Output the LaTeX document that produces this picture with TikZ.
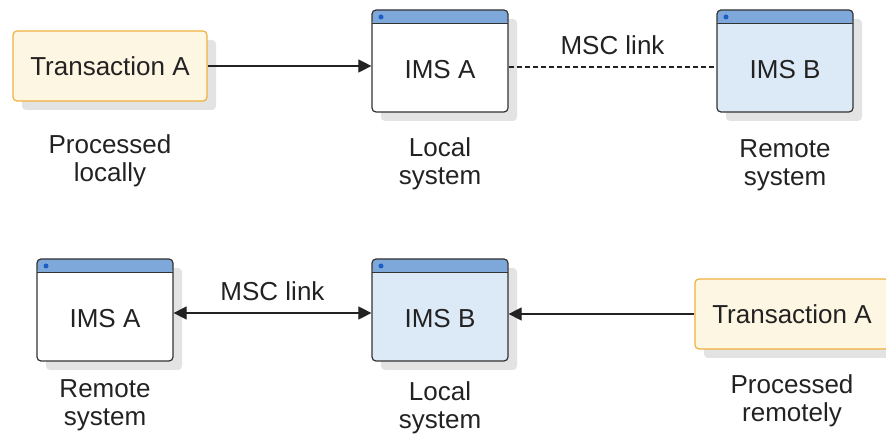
\documentclass[tikz,border=0pt]{standalone}
\usepackage{fontspec}
\setmainfont{Liberation Sans}
\usetikzlibrary{arrows.meta,positioning,shadows}
\definecolor{MscInk}{HTML}{222222}
\definecolor{MscEdge}{HTML}{333333}
\definecolor{MscShadow}{HTML}{E3E3E3}
\definecolor{TxnFill}{HTML}{FDF6E2}
\definecolor{TxnEdge}{HTML}{F0B13C}
\definecolor{ImsBar}{HTML}{7FA8DA}
\definecolor{ImsDot}{HTML}{1A5FC8}
\definecolor{ImsRemoteFill}{HTML}{DCE9F6}

\begin{document}
\begin{tikzpicture}[x=1pt,y=-1pt,font=\fontsize{26}{28}\selectfont,text=MscInk]
    \tikzset{
      shadowed/.style={drop shadow={shadow xshift=9pt,shadow yshift=-9pt,fill=MscShadow,opacity=1}},
      txnbox/.style={shadowed,rounded corners=4pt,draw=TxnEdge,fill=TxnFill,line width=1.2pt,minimum width=194pt,minimum height=70pt},
      imswin/.style={shadowed,rounded corners=4pt,draw=MscEdge,fill=white,line width=1.2pt,minimum width=136pt,minimum height=102pt,
        inner sep=1pt,text height=40pt,text depth=4pt,
        path picture={
          \fill[ImsBar] (path picture bounding box.north west) rectangle ([yshift=-14pt]path picture bounding box.north east);
          \draw[MscEdge,line width=1pt] ([yshift=-14pt]path picture bounding box.north west) -- ([yshift=-14pt]path picture bounding box.north east);
          \fill[ImsDot] ([xshift=9pt,yshift=-7pt]path picture bounding box.north west) circle (2.5pt);
        }},
      caption/.style={align=center},
      link/.style={MscInk,line width=1.1pt},
      oneway/.style={-{Triangle[length=13pt,width=13pt]}},
      twoway/.style={{Triangle[length=13pt,width=13pt]}-{Triangle[length=13pt,width=13pt]}}
    }
    \useasboundingbox (0,0) rectangle (886,435);
    % transaction processed on the local system
    \node[txnbox] (txnA1) at (110,66) {Transaction A};
    \node[imswin] (imsA1) at (440,61) {IMS A};
    \node[imswin,fill=ImsRemoteFill] (imsB1) at (785,61) {IMS B};
    \node[caption,below=30pt of txnA1] (capTxn1) {Processed\\locally};
    \node[caption,below=22pt of imsA1] (capA1) {Local\\system};
    \node[caption,below=23pt of imsB1] (capB1) {Remote\\system};
    \draw[link,oneway] (txnA1) -- (txnA1 -| imsA1.west);
    \draw[link,dashed,dash pattern=on 5pt off 3pt] ([yshift=-6pt]imsA1.east) -- node[above=8pt]{MSC link} ([yshift=-6pt]imsB1.west);
    % transaction routed to the remote system
    \node[imswin] (imsA2) at (105,310) {IMS A};
    \node[imswin,fill=ImsRemoteFill] (imsB2) at (440,310) {IMS B};
    \node[txnbox] (txnA2) at (792,314) {Transaction A};
    \node[caption,below=14pt of imsA2] (capA2) {Remote\\system};
    \node[caption,below=17pt of imsB2] (capB2) {Local\\system};
    \node[caption,below=22pt of txnA2] (capTxn2) {Processed\\remotely};
    \draw[link,twoway] ([yshift=-3pt]imsA2.east) -- node[above=8pt]{MSC link} ([yshift=-3pt]imsB2.west);
    \draw[link,oneway] (txnA2) -- (txnA2 -| imsB2.east);
  \end{tikzpicture}
\end{document}
